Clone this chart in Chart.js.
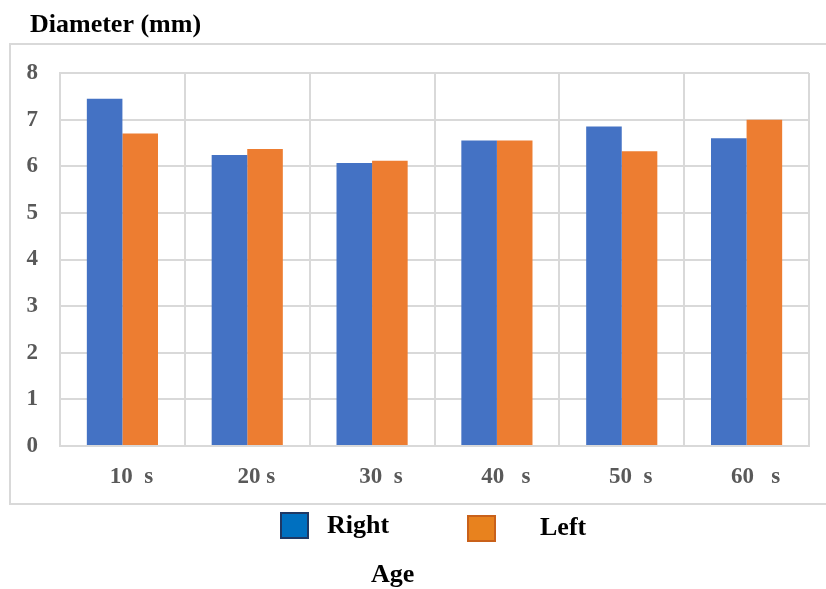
<!DOCTYPE html>
<html>
<head>
<meta charset="utf-8">
<script src="https://cdn.jsdelivr.net/npm/chart.js@4"></script>
<style>
  html, body { margin: 0; padding: 0; background: #fff; }
  #wrap { width: 826px; height: 589px; }
</style>
</head>
<body>
<div id="wrap"><canvas id="canvas" width="826" height="589"></canvas></div>
<script>
const ctx = document.getElementById("canvas").getContext("2d");

const ages = ["10  s", "20 s", "30  s", "40   s", "50  s", "60   s"];
const right = [7.45, 6.24, 6.07, 6.55, 6.85, 6.6];
const left = [6.7, 6.37, 6.12, 6.55, 6.32, 7.0];
const yTicks = [0, 1, 2, 3, 4, 5, 6, 7, 8];

const serif = "'Liberation Serif', 'Times New Roman', serif";

// frame, title, legend and axis title drawn by hand
const decor = {
  id: "decor",
  beforeDraw: (chart) => {
    const c = chart.ctx;
    c.save();
    c.fillStyle = "#fff";
    c.fillRect(0, 0, chart.width, chart.height);
    c.strokeStyle = "#d9d9d9";
    c.lineWidth = 2;
    c.strokeRect(10, 44, 830, 460);
    c.restore();
  },
  afterDraw: (chart) => {
    const c = chart.ctx;
    c.save();
    c.fillStyle = "#000";
    c.font = "bold 26px " + serif;
    c.textBaseline = "alphabetic";
    c.textAlign = "left";
    c.fillText("Diameter (mm)", 30, 32);

    const items = [
      { ds: chart.data.datasets[0], box: [281, 513, 27, 25], fill: "#0070C0", line: "#1F3864", tx: 327, ty: 533 },
      { ds: chart.data.datasets[1], box: [468, 516, 27, 25], fill: "#E8821E", line: "#C9611A", tx: 540, ty: 535 },
    ];
    items.forEach(it => {
      c.fillStyle = it.fill;
      c.fillRect(...it.box);
      c.strokeStyle = it.line;
      c.lineWidth = 2;
      c.strokeRect(...it.box);
      c.fillStyle = "#000";
      c.font = "bold 26px " + serif;
      c.fillText(it.ds.label, it.tx, it.ty);
    });

    c.fillText("Age", 371, 582);
    c.restore();
  }
};

new Chart(ctx, {
  type: "bar",
  data: {
    labels: ages,
    datasets: [
      { label: "Right", data: right, backgroundColor: "#4472C4" },
      { label: "Left", data: left, backgroundColor: "#ED7D31" },
    ]
  },
  options: {
    responsive: false,
    animation: false,
    layout: { padding: { left: 18, right: 17, top: 73, bottom: 93 } },
    plugins: { legend: { display: false }, tooltip: { enabled: false } },
    datasets: { bar: { categoryPercentage: 0.57, barPercentage: 1 } },
    scales: {
      x: {
        grid: { color: "#d9d9d9", lineWidth: 2, offset: true, drawTicks: false },
        border: { color: "#d9d9d9", width: 2 },
        ticks: {
          color: "#595959",
          font: { family: serif, size: 23, weight: "bold" },
          padding: 17,
          labelOffset: 9,
        },
        afterFit: (s) => { s.height = 50; },
      },
      y: {
        min: 0,
        max: 8,
        afterBuildTicks: (s) => { s.ticks = yTicks.map(v => ({ value: v })); },
        grid: { color: "#d9d9d9", lineWidth: 2, drawTicks: false },
        border: { color: "#d9d9d9", width: 2 },
        ticks: {
          color: "#595959",
          font: { family: serif, size: 23, weight: "bold" },
          padding: 22,
        },
        afterFit: (s) => { s.width = 42; },
      }
    }
  },
  plugins: [decor]
});
</script>
</body>
</html>
